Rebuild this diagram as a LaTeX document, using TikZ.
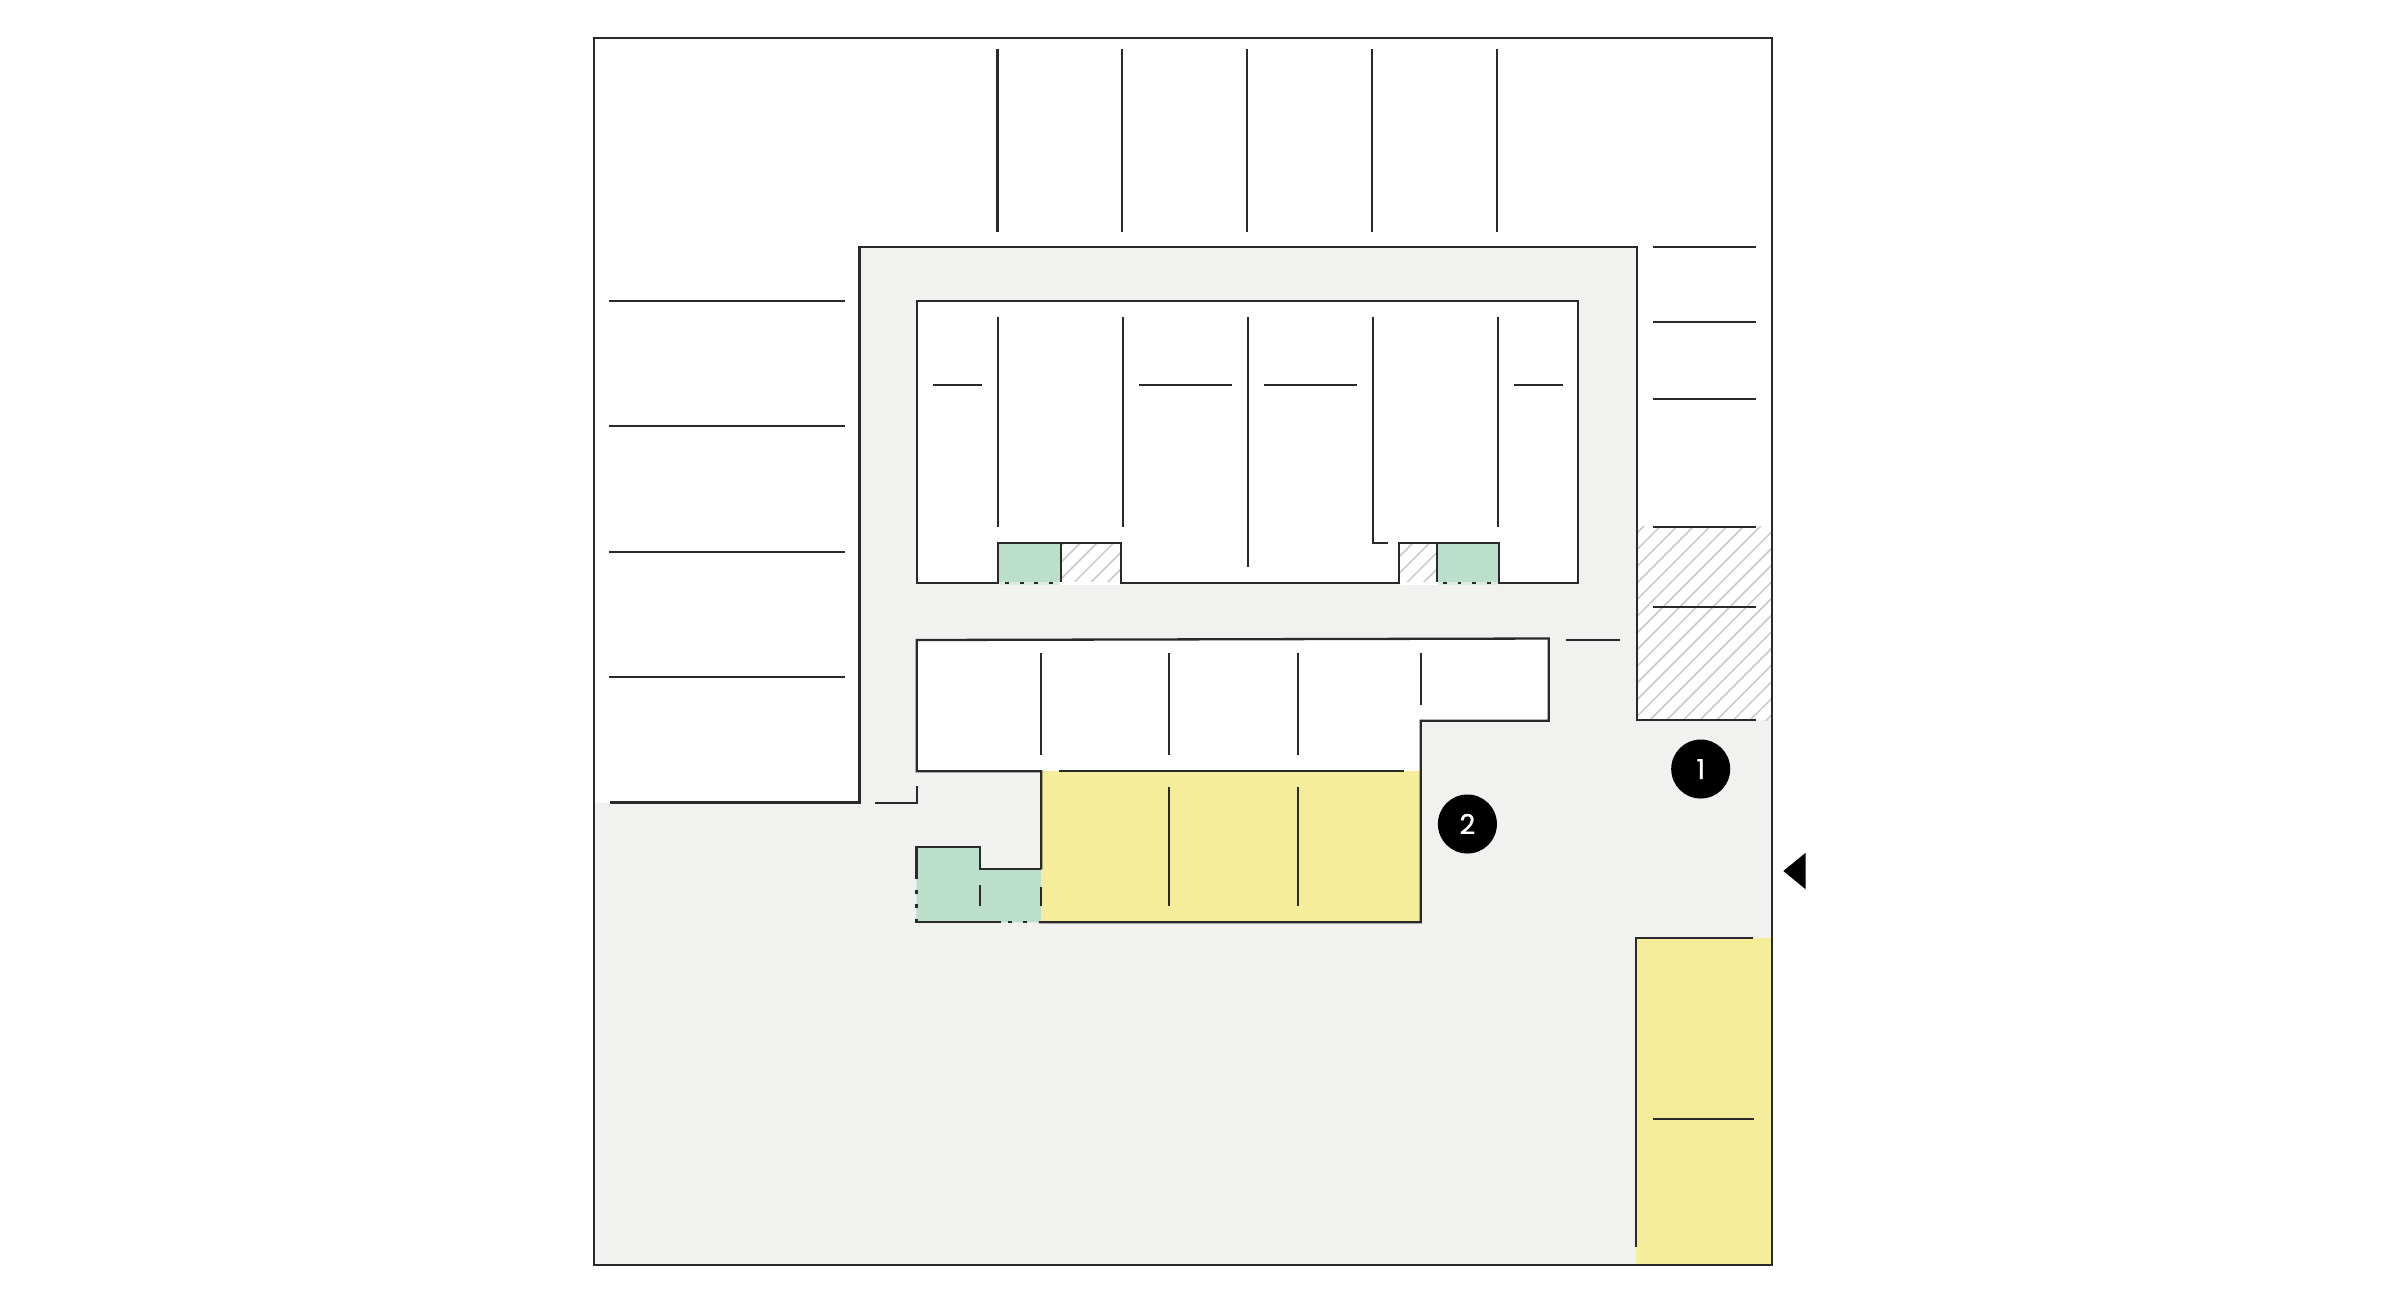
\documentclass[tikz,border=0pt]{standalone}
\usepackage{fontspec}
\setmainfont{Poppins}
\newfontfamily\badgefont[FakeBold=0.6]{Poppins}
\definecolor{pavement}{HTML}{F1F1EF}
\definecolor{zoneyellow}{HTML}{F5ED9A}
\definecolor{zonegreen}{HTML}{BCDFCB}
\definecolor{wallink}{HTML}{2A2A2A}
\definecolor{hatchink}{HTML}{C9C9C9}
\tikzset{
  wall/.style={draw=wallink,line width=0.023cm,line join=miter},
  hatchline/.style={draw=hatchink,line width=0.015cm},
  dots/.style={wallink,line width=0.023cm},
  badge/.style={circle,fill=black,text=white,inner sep=0pt,minimum size=0.59cm,font=\badgefont\fontsize{7.8}{9}\selectfont},
}
\begin{document}
\begin{tikzpicture}[x=0.01cm,y=-0.01cm]
\useasboundingbox (0,0) rectangle (2400,1302);
\fill[white] (0,0) rectangle (2400,1302);
% pavement
\fill[pavement] (859.5,246.7) -- (1637.3,246.7) -- (1637.3,720) -- (1772,720) -- (1772,1264.7) -- (594.3,1264.7) -- (594.3,802.5) -- (859.5,802.5) -- cycle;
% white blocks
\fill[white] (916.7,301) rectangle (1578.3,583.3);
\fill[pavement] (997.7,543.3) rectangle (1120.7,583.3);
\fill[pavement] (1399.3,543.3) rectangle (1498.7,583.3);
\fill[white] (916.7,640) -- (1548.8,638.5) -- (1548.8,720.7) -- (1420.8,720.7) -- (1420.8,771.3) -- (916.7,771.3) -- cycle;
% hatched areas
\fill[white] (1637.3,526.7) rectangle (1772,720);
\begin{scope}
\clip (1637.3,526.7) rectangle (1771.5,720);
\foreach \k in {-13,...,8} \draw[hatchline] ({2370+16.67*\k-300},300) -- ({2370+16.67*\k-1000},1000);
\end{scope}
\fill[white] (1061.3,543.3) rectangle (1120.7,583.3);
\begin{scope}
\clip (1061.3,543.3) rectangle (1120.7,583.3);
\foreach \k in {-3,...,6} \draw[hatchline] ({1656.6+16.67*\k-1000},1000) -- ({1656.6+16.67*\k-400},400);
\end{scope}
\fill[white] (1399.3,543.3) rectangle (1436.7,583.3);
\begin{scope}
\clip (1399.3,543.3) rectangle (1436.7,583.3);
\foreach \k in {-3,...,6} \draw[hatchline] ({1989.3+16.67*\k-1000},1000) -- ({1989.3+16.67*\k-400},400);
\end{scope}
% colour zones
\fill[zonegreen] (997.7,543.3) rectangle (1061.3,583.3);
\fill[zonegreen] (1436.7,543.3) rectangle (1498.7,583.3);
\fill[zonegreen] (916.4,847) -- (980.3,847) -- (980.3,869.3) -- (1041.3,869.3) -- (1041.3,922.3) -- (916.4,922.3) -- cycle;
\fill[zoneyellow] (1041.3,771.3) rectangle (1420.8,922.3);
\fill[zoneyellow] (1635.7,937.7) rectangle (1772,1264.7);
% outer frame
\draw[wall] (594.3,38.3) rectangle (1772,1264.7);
% top parking lines
\foreach \x in {997.4,1122,1247,1372.3,1497.3} \draw[wall] (\x,49.3) -- (\x,231.7);
% left parking lines
\foreach \y in {301,426,551.8,677} \draw[wall] (608.7,\y) -- (845,\y);
\draw[wall] (610,802.5) -- (859.5,802.5) -- (859.5,246.7) -- (1637.3,246.7) -- (1637.3,720) -- (1756,720);
% right parking lines
\foreach \y in {246.7,322.3,399.2,526.7,606.7} \draw[wall] (1652.7,\y) -- (1755.7,\y);
% upper block outline
\draw[wall] (997.7,583.3) -- (916.7,583.3) -- (916.7,301) -- (1578.3,301) -- (1578.3,583.3) -- (1498.7,583.3) -- (1498.7,543.3) -- (1399.3,543.3) -- (1399.3,583.3) -- (1120.7,583.3) -- (1120.7,543.3) -- (997.7,543.3) -- cycle;
\draw[wall] (1061.3,543.3) -- (1061.3,583.3);
\draw[wall] (1436.7,543.3) -- (1436.7,583.3);
\fill[white] (999,582) rectangle (1119.5,584.6);
\fill[white] (1400.5,582) rectangle (1497.5,584.6);
\fill[zonegreen!55!white] (999,582) rectangle (1060.2,584.6);
\fill[zonegreen!55!white] (1437.8,582) rectangle (1497.5,584.6);
\foreach \x in {1007,1021.7,1036,1050.7,1445,1459.3,1474,1488.7} \draw[dots] (\x-1.8,583.3) -- (\x+1.8,583.3);
% upper block partitions
\foreach \x in {997.7,1123,1498.3} \draw[wall] (\x,316.7) -- (\x,527.3);
\draw[wall] (1248,316.7) -- (1248,566.7);
\draw[wall] (1373,316.7) -- (1373,543.3) -- (1388.3,543.3);
\draw[wall] (932.7,385.3) -- (981.7,385.3);
\draw[wall] (1139,385.3) -- (1232,385.3);
\draw[wall] (1263.7,385.3) -- (1357,385.3);
\draw[wall] (1513.7,385.3) -- (1563,385.3);
% lower block outline
\draw[wall] (1041.3,869.3) -- (1041.3,771.3) -- (916.7,771.3) -- (916.7,640) -- (1548.8,638.5) -- (1548.8,720.7) -- (1420.8,720.7) -- (1420.8,922.3) -- (1038.8,922.3);
\draw[wall] (1058.7,771.3) -- (1403.9,771.3);
\draw[wall] (916.4,879.3) -- (916.4,847) -- (980.3,847) -- (980.3,869.3) -- (1041.3,869.3);
\draw[wall] (916.4,918.5) -- (916.4,922.3) -- (1000.5,922.3);
\draw[dots] (1008,922.3) -- (1012,922.3);
\draw[dots] (1023.4,922.3) -- (1027.4,922.3);
\draw[dots] (916.4,889.5) -- (916.4,893.5);
\draw[dots] (916.4,904) -- (916.4,908);
\draw[wall] (980.3,885) -- (980.3,905.7);
\draw[wall] (1041.3,886.7) -- (1041.3,905.7);
% lower block partitions
\foreach \x in {1041.3,1169.3,1297.7} \draw[wall] (\x,653.3) -- (\x,755);
\draw[wall] (1420.8,653.3) -- (1420.8,705);
\foreach \x in {1169.3,1297.7} \draw[wall] (\x,786.7) -- (\x,906);
% hook and stray line
\draw[wall] (874.5,802.7) -- (916.7,802.7) -- (916.7,786);
\draw[wall] (1566,640.3) -- (1620,640.3);
% right yellow zone lines
\draw[wall] (1635.7,1246.7) -- (1635.7,937.7) -- (1753.3,937.7);
\draw[wall] (1653.3,1119.3) -- (1754.3,1119.3);
% badges and entrance mark
\node[badge] (one) at (1700.7,769) {1};
\node[badge] (two) at (1467.4,824) {2};
\fill[black] (1783.3,871) -- (1805.7,852.7) -- (1805.7,889.3) -- cycle;
\end{tikzpicture}
\end{document}
